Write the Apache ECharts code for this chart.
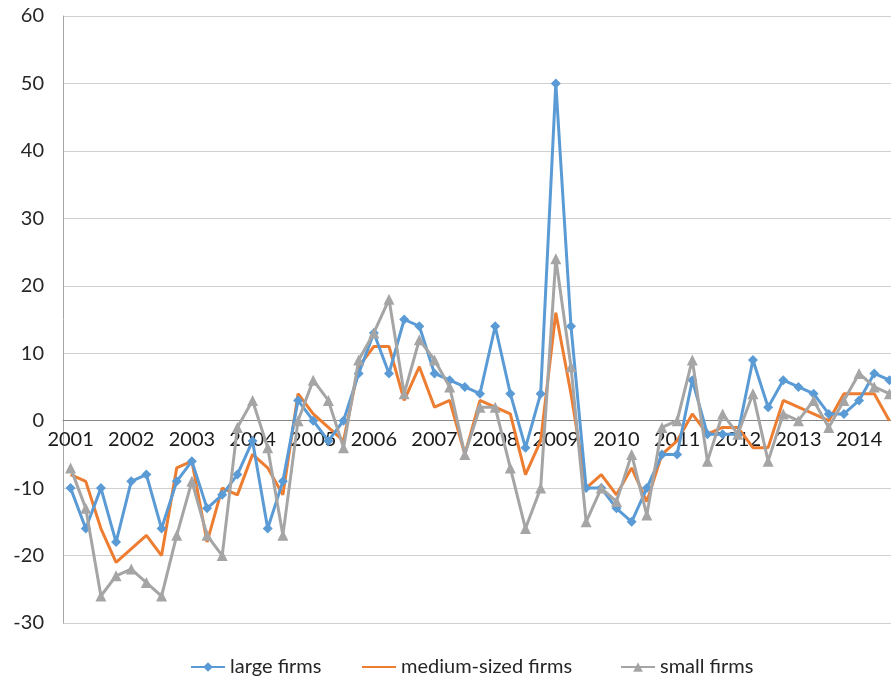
<!DOCTYPE html>
<html>
<head>
<meta charset="utf-8">
<title>Business climate by firm size</title>
<script src="https://cdn.jsdelivr.net/npm/echarts@6/dist/echarts.min.js"></script>
<style>
  html, body { margin: 0; padding: 0; background: #ffffff; overflow: hidden; }
  /* the plot runs a few pixels past the right edge of the window */
  #chart { width: 897px; height: 680px; }
</style>
</head>
<body>
<div id="chart"></div>
<script>
// Quarterly observations, 2001 Q1 through 2014 Q3
const years = ['2001','2002','2003','2004','2005','2006','2007','2008','2009','2010','2011','2012','2013','2014'];
const quarters = [];
years.forEach(function (y) {
  for (let q = 1; q <= 4; q++) quarters.push(y + ' Q' + q);
});
const categories = quarters.slice(0, 55);

const largeFirms = [
  -10, -16, -10, -18,  -9,  -8, -16,  -9,
   -6, -13, -11,  -8,  -3, -16,  -9,   3,
    0,  -3,   0,   7,  13,   7,  15,  14,
    7,   6,   5,   4,  14,   4,  -4,   4,
   50,  14, -10, -10, -13, -15, -10,  -5,
   -5,   6,  -2,  -2,  -2,   9,   2,   6,
    5,   4,   1,   1,   3,   7,   6
];
const mediumFirms = [
   -8,  -9, -16, -21, -19, -17, -20,  -7,
   -6, -18, -10, -11,  -5,  -7, -11,   4,
    1,  -1,  -3,   8,  11,  11,   3,   8,
    2,   3,  -5,   3,   2,   1,  -8,  -3,
   16,   4, -10,  -8, -11,  -7, -12,  -5,
   -3,   1,  -2,  -1,  -1,  -4,  -4,   3,
    2,   1,   0,   4,   4,   4,   0
];
const smallFirms = [
   -7, -13, -26, -23, -22, -24, -26, -17,
   -9, -17, -20,  -1,   3,  -4, -17,   0,
    6,   3,  -4,   9,  13,  18,   4,  12,
    9,   5,  -5,   2,   2,  -7, -16, -10,
   24,   8, -15, -10, -12,  -5, -14,  -1,
    0,   9,  -6,   1,  -2,   4,  -6,   1,
    0,   3,  -1,   3,   7,   5,   4
];

const FONT = 'Lato, "Open Sans", sans-serif';
const Y_MIN = -30, Y_MAX = 60, Y_STEP = 10;

const CHART_H = 680;
const GRID = { left: 63, right: 0, top: 16, bottom: 57 };
// the category axis sits on the zero line of the value axis
const plotH = CHART_H - GRID.top - GRID.bottom;
const zeroOffset = -plotH * (0 - Y_MIN) / (Y_MAX - Y_MIN);

const legendText = { fontFamily: FONT, fontSize: 20, color: '#262626' };
function legendAt(left, name, extra) {
  return {
    top: 652,
    left: left,
    itemWidth: 34,
    itemHeight: 12,
    textStyle: legendText,
    data: [Object.assign({ name: name }, extra || {})]
  };
}

const chart = echarts.init(document.getElementById('chart'), null, { renderer: 'canvas' });

chart.setOption({
  animation: false,
  backgroundColor: '#ffffff',
  color: ['#5b9bd5', '#ed7d31', '#a5a5a5'],
  grid: GRID,
  legend: [
    legendAt(185, 'large firms'),
    legendAt(356, 'medium-sized firms', { itemStyle: { opacity: 0 } }),
    legendAt(615, 'small firms')
  ],
  xAxis: {
    type: 'category',
    data: categories,
    boundaryGap: true,
    offset: zeroOffset,
    axisLine: { onZero: false, lineStyle: { color: '#868686', width: 1 } },
    axisTick: { show: false },
    axisLabel: {
      interval: 3,
      margin: 9,
      fontFamily: FONT,
      fontSize: 20,
      color: '#1a1a1a',
      formatter: function (v) { return v.slice(0, 4); }
    },
    splitLine: { show: false }
  },
  yAxis: {
    type: 'value',
    min: Y_MIN,
    max: Y_MAX,
    interval: Y_STEP,
    axisLine: { show: true, lineStyle: { color: '#a6a6a6', width: 1 } },
    axisTick: { show: false },
    axisLabel: { margin: 19, fontFamily: FONT, fontSize: 20, color: '#262626' },
    splitLine: { lineStyle: { color: '#d0d0d0', width: 1 } }
  },
  series: [
    {
      name: 'large firms',
      type: 'line',
      data: largeFirms,
      symbol: 'diamond',
      symbolSize: 10,
      showAllSymbol: true,
      lineStyle: { width: 3 },
      z: 3
    },
    {
      name: 'medium-sized firms',
      type: 'line',
      data: mediumFirms,
      symbol: 'none',
      lineStyle: { width: 3 },
      z: 2
    },
    {
      name: 'small firms',
      type: 'line',
      data: smallFirms,
      symbol: 'triangle',
      symbolSize: 11,
      showAllSymbol: true,
      lineStyle: { width: 3 },
      z: 4
    }
  ]
});
</script>
</body>
</html>
